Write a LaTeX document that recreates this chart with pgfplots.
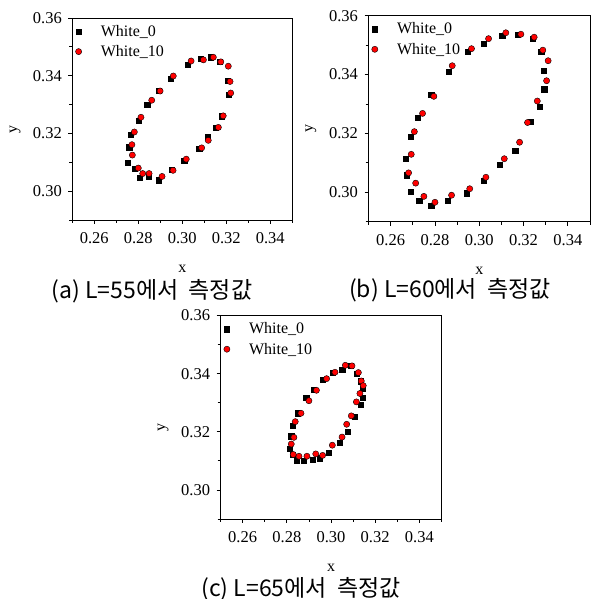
\documentclass[border=0pt]{standalone}
\usepackage{fontspec}
\setmainfont{Liberation Serif}
\newfontfamily\kr{Noto Sans CJK KR}
\usepackage{pgfplots}
\pgfplotsset{compat=1.18}

\pgfplotsset{
  cie/.style={
    scale only axis,
    xmin=0.25, xmax=0.35, ymin=0.29, ymax=0.36,
    xtick={0.26,0.28,0.30,0.32,0.34},
    ytick={0.30,0.32,0.34,0.36},
    minor xtick={0.25,0.27,0.29,0.31,0.33,0.35},
    minor ytick={0.29,0.31,0.33,0.35},
    tick align=outside,
    xtick pos=bottom, ytick pos=left,
    major tick length=4pt, minor tick length=3pt,
    axis line style={line width=0.9pt},
    every tick/.style={black, line width=0.8pt},
    /pgf/number format/.cd, fixed, fixed zerofill, precision=2, assume math mode=true,
    /pgfplots/.cd,
    tick label style={font=\fontsize{16.5}{19}\selectfont},
    xticklabel style={yshift=-5pt},
    yticklabel style={xshift=-3pt},
    xlabel={x}, ylabel={y},
    every axis x label/.style={at={(axis description cs:0.5,0)}, anchor=center,
      yshift=-49pt, font=\fontsize{16}{18}\selectfont},
    every axis y label/.style={at={(axis description cs:-0.26,0.45)}, anchor=center,
      rotate=90, font=\fontsize{16}{18}\selectfont},
    legend style={at={(axis description cs:0,1)}, anchor=north west, yshift=-3pt,
      draw=none, fill=none, font=\fontsize{16}{18}\selectfont, row sep=3.5pt},
    legend cell align=left,
    legend image code/.code={\path (-1pt,0pt) (20pt,0pt); \draw[##1] plot coordinates {(0pt,0pt)};},
  },
  w0/.style={only marks, mark=square*, mark size=2.6pt, mark options={fill=black, draw=none}},
  w10/.style={only marks, mark=*, mark size=3.1pt, mark options={fill=red, draw=none}},
}

\begin{document}
\begin{tikzpicture}
\useasboundingbox (0,0) rectangle (593pt,599pt);

% (a) L=55
\begin{axis}[cie, at={(72.3pt,379pt)}, anchor=south west, width=220pt, height=202pt]
\addplot[w0] coordinates {
(0.2752,0.3098) (0.2759,0.3152) (0.2767,0.3196) (0.2800,0.3245) (0.2840,0.3300)
(0.2894,0.3348) (0.2947,0.3390) (0.3025,0.3438) (0.3084,0.3460) (0.3130,0.3464)
(0.3171,0.3449) (0.3206,0.3383) (0.3211,0.3335) (0.3180,0.3260) (0.3153,0.3220)
(0.3117,0.3188) (0.3077,0.3148) (0.3009,0.3105) (0.2953,0.3075) (0.2891,0.3038)
(0.2847,0.3051) (0.2805,0.3046) (0.2782,0.3077)
};
\addlegendentry{White\_0}
\addplot[w10] coordinates {
(0.2773,0.3125) (0.2771,0.3161) (0.2782,0.3205) (0.2812,0.3256) (0.2861,0.3315)
(0.2899,0.3347) (0.2959,0.3399) (0.3040,0.3451) (0.3096,0.3455) (0.3141,0.3464)
(0.3175,0.3448) (0.3209,0.3433) (0.3217,0.3380) (0.3220,0.3340) (0.3186,0.3261)
(0.3164,0.3221) (0.3118,0.3176) (0.3088,0.3150) (0.3018,0.3111) (0.2958,0.3072)
(0.2908,0.3051) (0.2849,0.3061) (0.2820,0.3061) (0.2800,0.3080)
};
\addlegendentry{White\_10}
\end{axis}

% (b) L=60
\begin{axis}[cie, at={(368.5pt,377.3pt)}, anchor=south west, width=221.5pt, height=206pt]
\addplot[w0] coordinates {
(0.2669,0.3114) (0.2672,0.3058) (0.2690,0.3002) (0.2729,0.2972) (0.2783,0.2955)
(0.2859,0.2971) (0.2943,0.2997) (0.3021,0.3040) (0.3092,0.3094) (0.3162,0.3140)
(0.3233,0.3239) (0.3274,0.3292) (0.3293,0.3350) (0.3290,0.3414) (0.3280,0.3478)
(0.3242,0.3522) (0.3173,0.3535) (0.3104,0.3531) (0.3020,0.3506) (0.2947,0.3478)
(0.2862,0.3409) (0.2783,0.3331) (0.2723,0.3254) (0.2689,0.3189)
};
\addlegendentry{White\_0}
\addplot[w10] coordinates {
(0.2681,0.3066) (0.2693,0.3129) (0.2707,0.3206) (0.2744,0.3268) (0.2795,0.3326)
(0.2878,0.3430) (0.2965,0.3488) (0.3042,0.3522) (0.3120,0.3542) (0.3188,0.3537)
(0.3248,0.3527) (0.3287,0.3483) (0.3311,0.3447) (0.3304,0.3379) (0.3262,0.3310)
(0.3218,0.3237) (0.3182,0.3170) (0.3113,0.3114) (0.3030,0.3051) (0.2957,0.3012)
(0.2875,0.2990) (0.2800,0.2966) (0.2750,0.2986) (0.2713,0.3031)
};
\addlegendentry{White\_10}
\end{axis}

% (c) L=65
\begin{axis}[cie, at={(220.6pt,80pt)}, anchor=south west, width=220.8pt, height=203.4pt]
\addplot[w0] coordinates {
(0.2814,0.3141) (0.2820,0.3185) (0.2826,0.3220) (0.2848,0.3264) (0.2888,0.3318)
(0.2922,0.3346) (0.2962,0.3379) (0.3009,0.3404) (0.3051,0.3415) (0.3091,0.3428)
(0.3118,0.3399) (0.3134,0.3374) (0.3143,0.3348) (0.3142,0.3318) (0.3134,0.3293)
(0.3109,0.3251) (0.3075,0.3201) (0.3038,0.3163) (0.2988,0.3128) (0.2950,0.3109)
(0.2917,0.3103) (0.2878,0.3100) (0.2845,0.3102) (0.2826,0.3120)
};
\addlegendentry{White\_0}
\addplot[w10] coordinates {
(0.2820,0.3158) (0.2832,0.3181) (0.2838,0.3235) (0.2864,0.3264) (0.2900,0.3307)
(0.2934,0.3343) (0.2980,0.3383) (0.3018,0.3405) (0.3065,0.3429) (0.3095,0.3427)
(0.3124,0.3404) (0.3137,0.3375) (0.3146,0.3359) (0.3131,0.3332) (0.3115,0.3303)
(0.3092,0.3255) (0.3071,0.3226) (0.3050,0.3182) (0.3006,0.3154) (0.2962,0.3119)
(0.2931,0.3124) (0.2891,0.3116) (0.2855,0.3116) (0.2829,0.3122)
};
\addlegendentry{White\_10}
\end{axis}

\node[font=\kr\fontsize{23}{25}\selectfont, anchor=center] at (152pt,308pt) {(a) L=55에서 \ 측정값};
\node[font=\kr\fontsize{23}{25}\selectfont, anchor=center] at (450pt,309pt) {(b) L=60에서 \ 측정값};
\node[font=\kr\fontsize{23}{25}\selectfont, anchor=center] at (301pt,9.5pt) {(c) L=65에서 \ 측정값};
\end{tikzpicture}
\end{document}
